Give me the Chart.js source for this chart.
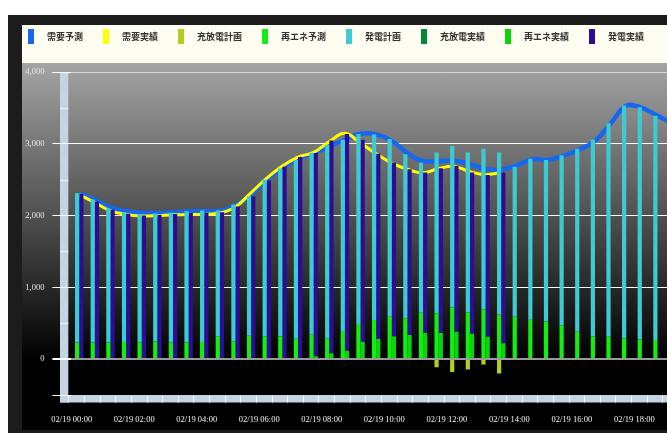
<!DOCTYPE html>
<html>
<head>
<meta charset="utf-8">
<script src="https://cdn.jsdelivr.net/npm/chart.js@4"></script>
<style>
  html, body { margin: 0; padding: 0; background: #fff; overflow: hidden; }
  #wrap { position: absolute; left: 8px; top: 15px; }
</style>
</head>
<body>
<div id="wrap"><canvas id="supply-chart" width="840" height="425"></canvas></div>
<script>
// half-hour slots for 02/19
const times = [];
for (let h = 0; h < 24; h++) {
    const hh = String(h).padStart(2, '0');
    times.push('02/19 ' + hh + ':00', '02/19 ' + hh + ':30');
}

const seriesNames = ['需要予測', '需要実績', '充放電計画', '再エネ予測', '発電計画', '充放電実績', '再エネ実績', '発電実績'];

// plan (00:00 - 19:00)
const demandForecast = [2310, 2220, 2110, 2060, 2035, 2035, 2045, 2055, 2060, 2065, 2140, 2290, 2500, 2660, 2790, 2870, 2960, 3060, 3140, 3130,
    3040, 2870, 2760, 2760, 2765, 2715, 2650, 2640, 2700, 2785, 2775, 2835, 2920, 3040, 3280, 3530, 3500, 3390, 3280];
const chargePlan = [0, 0, 0, 0, 0, 0, 0, 0, 0, 0, 0, 0, 0, 0, 0, 0, 0, 0, 0, 0,
    0, 0, 0, -115, -180, -145, -75, -200, 0, 0, 0, 0, 0, 0, 0, 0, 0, 0, 0];
const renewForecast = [230, 230, 235, 240, 235, 245, 235, 235, 240, 310, 250, 325, 310, 320, 285, 340, 285, 390, 490, 545,
    590, 570, 645, 640, 720, 650, 690, 620, 590, 550, 525, 470, 380, 318, 310, 290, 275, 265, 250];
const genPlan = [2080, 1995, 1865, 1805, 1785, 1785, 1805, 1825, 1830, 1760, 1905, 1940, 2190, 2335, 2490, 2535, 2700, 2665, 2645, 2585,
    2475, 2285, 2090, 2240, 2250, 2230, 2240, 2260, 2090, 2240, 2250, 2370, 2550, 2740, 2975, 3245, 3235, 3125, 3030];

// actuals (00:00 - 13:30)
const demandActual = [2290, 2180, 2065, 2015, 1995, 2000, 2010, 2015, 2015, 2035, 2120, 2320, 2520, 2690, 2815, 2880, 3030, 3145, 3010, 2860,
    2730, 2645, 2595, 2655, 2685, 2610, 2570, 2600];
const chargeActual = [0, 0, 0, 0, 0, 0, 0, 0, 0, 0, 0, 0, 0, 0, 0, 0, 0, 0, 0, 0,
    0, 0, 0, 0, 0, 0, 0, 0];
const renewActual = [0, 0, 0, 0, 0, 0, 0, 0, 0, 0, 0, 0, 0, 0, 15, 40, 80, 115, 240, 280,
    315, 335, 365, 365, 380, 355, 310, 220];
const genActual = [2300, 2195, 2080, 2025, 2000, 2010, 2020, 2035, 2035, 2045, 2125, 2265, 2490, 2680, 2800, 2830, 2965, 3020, 2815, 2580,
    2425, 2310, 2235, 2295, 2310, 2245, 2255, 2380];

const yTicks = { min: -500, max: 4000, step: 500 };

const labelFont = { family: 'Liberation Serif', size: 8.5 };

// backdrop, legend strip, 3D-looking axis wall and floor
const panel = {
    id: 'panel',
    beforeDraw(chart) {
        const { ctx, width, height, chartArea } = chart;
        const y = chart.scales.y;
        ctx.save();

        ctx.fillStyle = '#1c1c1c';
        ctx.fillRect(0, 0, width, height);

        const grad = ctx.createLinearGradient(0, 48, 0, 345);
        grad.addColorStop(0, '#a4a4a4');
        grad.addColorStop(1, '#000000');
        ctx.fillStyle = grad;
        ctx.fillRect(14, 48, width - 14, 367);

        ctx.fillStyle = '#fdfdf1';
        ctx.fillRect(14, 10, width - 14, 38);

        // axis wall + floor
        const top = y.getPixelForValue(yTicks.max);
        const floorTop = y.getPixelForValue(yTicks.min);
        const floorBottom = floorTop + 7.5;
        ctx.fillStyle = '#c5d4e5';
        ctx.fillRect(52, top, 8.3, floorBottom - top);
        ctx.fillRect(52, floorTop, width - 52, floorBottom - floorTop);

        ctx.strokeStyle = '#ffffff';
        ctx.lineWidth = 1;
        const slot = (chartArea.right - chartArea.left) / times.length;
        ctx.beginPath();
        for (let k = 0; k <= times.length; k++) {
            const sx = Math.round(chartArea.left + k * slot - 3) + 0.5;
            ctx.moveTo(sx, floorTop + 1);
            ctx.lineTo(sx, floorBottom);
        }
        // minor marks on the wall
        for (let v = yTicks.min + yTicks.step; v < yTicks.max; v += yTicks.step) {
            if (v % 1000 === 0) continue;
            const py = Math.round(y.getPixelForValue(v)) + 0.5;
            ctx.moveTo(52, py);
            ctx.lineTo(60.3, py);
        }
        ctx.stroke();

        // legend
        ctx.font = 'bold 9px "Noto Sans CJK JP"';
        ctx.textBaseline = 'middle';
        let x = 20;
        chart.data.datasets.forEach(ds => {
            ctx.fillStyle = ds.type === 'line' ? ds.borderColor : ds.backgroundColor;
            ctx.fillRect(x, 14, 6, 15);
            ctx.fillStyle = '#333333';
            ctx.fillText(ds.label, x + 19, 22);
            x += 19 + ctx.measureText(ds.label).width + 20;
        });

        ctx.restore();
    }
};

new Chart(document.getElementById('supply-chart'), {
    type: 'bar',
    data: {
        labels: times,
        datasets: [{
            type: 'line',
            label: seriesNames[0],
            data: demandForecast,
            borderColor: '#1468f0',
            borderWidth: 4.5,
            tension: 0.4,
            pointRadius: 0,
            stack: 'forecast',
            order: 3
        }, {
            type: 'line',
            label: seriesNames[1],
            data: demandActual,
            borderColor: '#ffff00',
            borderWidth: 3,
            tension: 0.4,
            pointRadius: 0,
            stack: 'actualLine',
            order: 2
        }, {
            label: seriesNames[2],
            data: chargePlan,
            backgroundColor: '#b4cd20',
            stack: 'plan',
            order: 1
        }, {
            label: seriesNames[3],
            data: renewForecast,
            backgroundColor: '#12ee12',
            stack: 'plan',
            order: 1
        }, {
            label: seriesNames[4],
            data: genPlan,
            backgroundColor: '#3ccbd2',
            stack: 'plan',
            order: 1
        }, {
            label: seriesNames[5],
            data: chargeActual,
            backgroundColor: '#00873a',
            stack: 'actual',
            order: 1
        }, {
            label: seriesNames[6],
            data: renewActual,
            backgroundColor: '#0bd40b',
            stack: 'actual',
            order: 1
        }, {
            label: seriesNames[7],
            data: genActual,
            backgroundColor: '#2c0c98',
            stack: 'actual',
            order: 1
        }]
    },
    options: {
        responsive: false,
        animation: false,
        categoryPercentage: 0.54,
        barPercentage: 1,
        layout: {
            padding: { top: 57, right: 26.4, left: 0, bottom: 0 }
        },
        plugins: {
            legend: { display: false },
            tooltip: { enabled: false }
        },
        scales: {
            x: {
                stacked: true,
                afterFit: (scale) => { scale.height = 45; },
                grid: { display: false, drawTicks: false },
                border: { display: false },
                ticks: {
                    autoSkip: false,
                    maxRotation: 0,
                    minRotation: 0,
                    padding: 20,
                    labelOffset: -7.5,
                    color: '#f2f2f2',
                    font: labelFont,
                    callback: function (value, index) {
                        return index % 4 === 0 ? this.getLabelForValue(value) : '';
                    }
                }
            },
            y: {
                stacked: true,
                min: yTicks.min,
                max: yTicks.max,
                afterFit: (scale) => { scale.width = 63.4; },
                border: { display: false },
                grid: {
                    tickLength: 19,
                    color: (c) => {
                        const v = c.tick.value;
                        if (v === 0) return '#9a9a9a';
                        if (v === yTicks.max) return 'rgba(255,255,255,0.55)';
                        if (v > 0 && v % 1000 === 0) return '#ffffff';
                        return 'rgba(0,0,0,0)';
                    },
                    tickColor: (c) => {
                        const v = c.tick.value;
                        return (v % 1000 === 0 || v === yTicks.min) ? '#ffffff' : 'rgba(0,0,0,0)';
                    },
                    lineWidth: (c) => c.tick.value === 0 ? 2 : 1
                },
                ticks: {
                    stepSize: yTicks.step,
                    padding: 8,
                    color: '#e6e6e6',
                    font: labelFont,
                    callback: (v) => v % 1000 === 0 ? v.toLocaleString('en-US') : ''
                }
            }
        }
    },
    plugins: [panel]
});
</script>
</body>
</html>
